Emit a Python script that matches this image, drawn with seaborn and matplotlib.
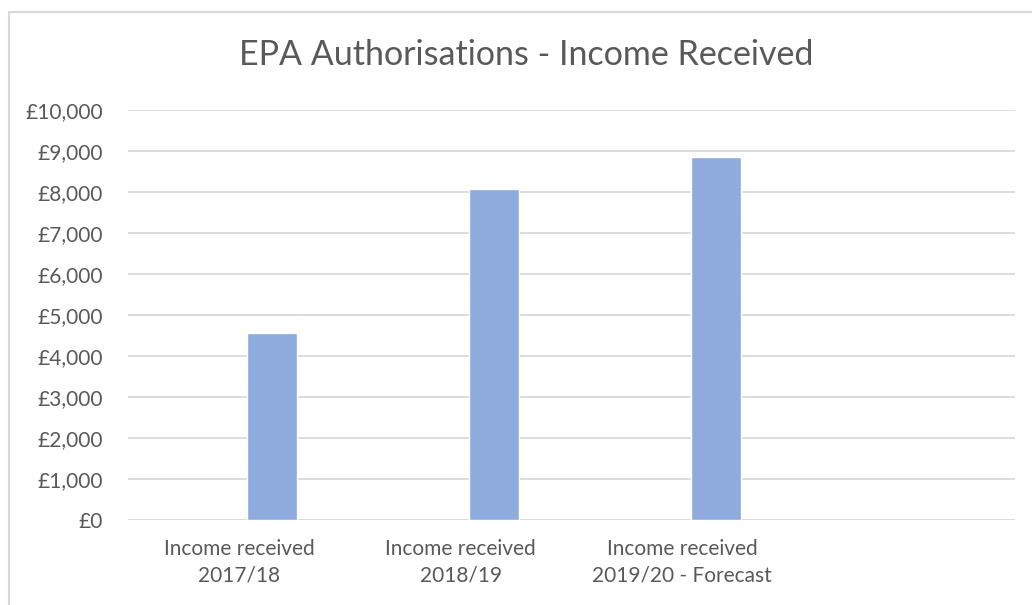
import numpy as np
import pandas as pd
import matplotlib
matplotlib.use("Agg")
import matplotlib.pyplot as plt
import matplotlib.ticker as mticker
import seaborn as sns

# ── Data ──────────────────────────────────────────────────────────────────────
categories = [
    "Income received\n2017/18",
    "Income received\n2018/19",
    "Income received\n2019/20 - Forecast",
    "",
]
# Excel chart has an empty first series, so the real bars sit right of centre
blank_series = [np.nan, np.nan, np.nan, np.nan]
income = [4560, 8070, 8860, np.nan]
series_names = ["blank", "Income received"]
y_ticks = list(range(0, 10001, 1000))

BAR_COLOR = "#8FAADC"
GRID_COLOR = "#D9D9D9"
TEXT_COLOR = "#595959"

sns.set_theme(style="white")
plt.rcParams["font.family"] = ["Lato", "DejaVu Sans"]

df = pd.DataFrame({
    "category": categories * 2,
    "series": [series_names[0]] * len(categories) + [series_names[1]] * len(categories),
    "value": blank_series + income,
})

fig = plt.figure(figsize=(10.32, 6.05), dpi=100)
ax = fig.add_axes([128 / 1032, 1 - 520 / 605, (1015 - 128) / 1032, (520 - 110) / 605])

sns.barplot(
    data=df, x="category", y="value", hue="series",
    order=categories, hue_order=series_names,
    palette=[BAR_COLOR, BAR_COLOR],
    width=0.6, gap=0.25, saturation=1, legend=False,
    errorbar=None, ax=ax, zorder=3,
)

ax.set_xlim(-0.5, len(categories) - 0.5)
ax.set_ylim(0, 10000)
ax.set_yticks(y_ticks)
ax.yaxis.set_major_formatter(mticker.FuncFormatter(lambda v, _: f"£{v:,.0f}"))
ax.grid(axis="y", color=GRID_COLOR, linewidth=1.3, zorder=0)
ax.set_axisbelow(True)
for s in ax.spines.values():
    s.set_visible(False)
ax.tick_params(axis="both", length=0, labelsize=15, colors=TEXT_COLOR)
ax.tick_params(axis="y", pad=18)
ax.tick_params(axis="x", pad=14)
ax.set_xlabel("")
ax.set_ylabel("")
for lbl in ax.get_xticklabels():
    lbl.set_linespacing(1.35)

fig.text(526 / 1032, 1 - 55 / 605, "EPA Authorisations - Income Received",
         ha="center", va="center", fontsize=24.5, color=TEXT_COLOR)

# chart area border
fig.patches.append(plt.Rectangle((9 / 1032, -0.1), 1.2, 1 - 12 / 605 + 0.1,
                                 transform=fig.transFigure, fill=False,
                                 edgecolor=GRID_COLOR, linewidth=1.5))

fig.savefig("out.png", dpi=100)
